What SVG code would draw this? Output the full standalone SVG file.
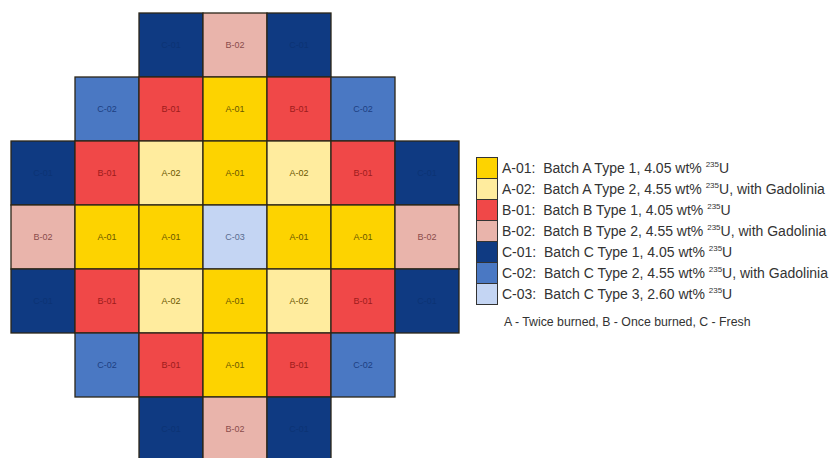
<svg xmlns="http://www.w3.org/2000/svg" width="832" height="458" viewBox="0 0 832 458">
<style>
.cell{stroke:#2b2618;stroke-width:1.3}
.lbl{font-family:"Liberation Sans",Arial,sans-serif;font-size:9px;text-anchor:middle;dominant-baseline:central}
.a1{fill:#FDD300}.a2{fill:#FFEC9E}.b1{fill:#F04848}.b2{fill:#E9B4AB}.c1{fill:#0F3A82}.c2{fill:#4A78C3}.c3{fill:#C4D5F3}
.ta{fill:#6a5700}.tb1{fill:#9c1c1c}.tb2{fill:#8a4c4c}.tc1{fill:#0c3374}.tc2{fill:#1d3f82}.tc3{fill:#5a6c90}
.sw{stroke:#333;stroke-width:1}
.leg{font-family:"Liberation Sans",Arial,sans-serif;font-size:14px;fill:#333;white-space:pre}
.sup{font-size:8px}
</style>
<g id="core">
<g id="r0c2"><rect class="cell c1" x="139" y="13" width="64" height="64"/><text class="lbl tc1" x="171" y="45">C-01</text></g>
<g id="r0c3"><rect class="cell b2" x="203" y="13" width="64" height="64"/><text class="lbl tb2" x="235" y="45">B-02</text></g>
<g id="r0c4"><rect class="cell c1" x="267" y="13" width="64" height="64"/><text class="lbl tc1" x="299" y="45">C-01</text></g>

<g id="r1c1"><rect class="cell c2" x="75" y="77" width="64" height="64"/><text class="lbl tc2" x="107" y="109">C-02</text></g>
<g id="r1c2"><rect class="cell b1" x="139" y="77" width="64" height="64"/><text class="lbl tb1" x="171" y="109">B-01</text></g>
<g id="r1c3"><rect class="cell a1" x="203" y="77" width="64" height="64"/><text class="lbl ta" x="235" y="109">A-01</text></g>
<g id="r1c4"><rect class="cell b1" x="267" y="77" width="64" height="64"/><text class="lbl tb1" x="299" y="109">B-01</text></g>
<g id="r1c5"><rect class="cell c2" x="331" y="77" width="64" height="64"/><text class="lbl tc2" x="363" y="109">C-02</text></g>

<g id="r2c0"><rect class="cell c1" x="11" y="141" width="64" height="64"/><text class="lbl tc1" x="43" y="173">C-01</text></g>
<g id="r2c1"><rect class="cell b1" x="75" y="141" width="64" height="64"/><text class="lbl tb1" x="107" y="173">B-01</text></g>
<g id="r2c2"><rect class="cell a2" x="139" y="141" width="64" height="64"/><text class="lbl ta" x="171" y="173">A-02</text></g>
<g id="r2c3"><rect class="cell a1" x="203" y="141" width="64" height="64"/><text class="lbl ta" x="235" y="173">A-01</text></g>
<g id="r2c4"><rect class="cell a2" x="267" y="141" width="64" height="64"/><text class="lbl ta" x="299" y="173">A-02</text></g>
<g id="r2c5"><rect class="cell b1" x="331" y="141" width="64" height="64"/><text class="lbl tb1" x="363" y="173">B-01</text></g>
<g id="r2c6"><rect class="cell c1" x="395" y="141" width="64" height="64"/><text class="lbl tc1" x="427" y="173">C-01</text></g>

<g id="r3c0"><rect class="cell b2" x="11" y="205" width="64" height="64"/><text class="lbl tb2" x="43" y="237">B-02</text></g>
<g id="r3c1"><rect class="cell a1" x="75" y="205" width="64" height="64"/><text class="lbl ta" x="107" y="237">A-01</text></g>
<g id="r3c2"><rect class="cell a1" x="139" y="205" width="64" height="64"/><text class="lbl ta" x="171" y="237">A-01</text></g>
<g id="r3c3"><rect class="cell c3" x="203" y="205" width="64" height="64"/><text class="lbl tc3" x="235" y="237">C-03</text></g>
<g id="r3c4"><rect class="cell a1" x="267" y="205" width="64" height="64"/><text class="lbl ta" x="299" y="237">A-01</text></g>
<g id="r3c5"><rect class="cell a1" x="331" y="205" width="64" height="64"/><text class="lbl ta" x="363" y="237">A-01</text></g>
<g id="r3c6"><rect class="cell b2" x="395" y="205" width="64" height="64"/><text class="lbl tb2" x="427" y="237">B-02</text></g>

<g id="r4c0"><rect class="cell c1" x="11" y="269" width="64" height="64"/><text class="lbl tc1" x="43" y="301">C-01</text></g>
<g id="r4c1"><rect class="cell b1" x="75" y="269" width="64" height="64"/><text class="lbl tb1" x="107" y="301">B-01</text></g>
<g id="r4c2"><rect class="cell a2" x="139" y="269" width="64" height="64"/><text class="lbl ta" x="171" y="301">A-02</text></g>
<g id="r4c3"><rect class="cell a1" x="203" y="269" width="64" height="64"/><text class="lbl ta" x="235" y="301">A-01</text></g>
<g id="r4c4"><rect class="cell a2" x="267" y="269" width="64" height="64"/><text class="lbl ta" x="299" y="301">A-02</text></g>
<g id="r4c5"><rect class="cell b1" x="331" y="269" width="64" height="64"/><text class="lbl tb1" x="363" y="301">B-01</text></g>
<g id="r4c6"><rect class="cell c1" x="395" y="269" width="64" height="64"/><text class="lbl tc1" x="427" y="301">C-01</text></g>

<g id="r5c1"><rect class="cell c2" x="75" y="333" width="64" height="64"/><text class="lbl tc2" x="107" y="365">C-02</text></g>
<g id="r5c2"><rect class="cell b1" x="139" y="333" width="64" height="64"/><text class="lbl tb1" x="171" y="365">B-01</text></g>
<g id="r5c3"><rect class="cell a1" x="203" y="333" width="64" height="64"/><text class="lbl ta" x="235" y="365">A-01</text></g>
<g id="r5c4"><rect class="cell b1" x="267" y="333" width="64" height="64"/><text class="lbl tb1" x="299" y="365">B-01</text></g>
<g id="r5c5"><rect class="cell c2" x="331" y="333" width="64" height="64"/><text class="lbl tc2" x="363" y="365">C-02</text></g>

<g id="r6c2"><rect class="cell c1" x="139" y="397" width="64" height="64"/><text class="lbl tc1" x="171" y="429">C-01</text></g>
<g id="r6c3"><rect class="cell b2" x="203" y="397" width="64" height="64"/><text class="lbl tb2" x="235" y="429">B-02</text></g>
<g id="r6c4"><rect class="cell c1" x="267" y="397" width="64" height="64"/><text class="lbl tc1" x="299" y="429">C-01</text></g>
</g>
<g id="connectors"/>
<g id="legend">
<g id="leg-a01"><rect class="sw a1" x="476.5" y="157.5" width="21" height="21"/><text class="leg" x="502" y="173">A-01:  Batch A Type 1, 4.05 wt% <tspan class="sup" dy="-6">235</tspan><tspan dy="6">U</tspan></text></g>
<g id="leg-a02"><rect class="sw a2" x="476.5" y="178.5" width="21" height="21"/><text class="leg" x="502" y="194">A-02:  Batch A Type 2, 4.55 wt% <tspan class="sup" dy="-6">235</tspan><tspan dy="6">U, with Gadolinia</tspan></text></g>
<g id="leg-b01"><rect class="sw b1" x="476.5" y="199.5" width="21" height="21"/><text class="leg" x="502" y="215">B-01:  Batch B Type 1, 4.05 wt% <tspan class="sup" dy="-6">235</tspan><tspan dy="6">U</tspan></text></g>
<g id="leg-b02"><rect class="sw b2" x="476.5" y="220.5" width="21" height="21"/><text class="leg" x="502" y="236">B-02:  Batch B Type 2, 4.55 wt% <tspan class="sup" dy="-6">235</tspan><tspan dy="6">U, with Gadolinia</tspan></text></g>
<g id="leg-c01"><rect class="sw c1" x="476.5" y="241.5" width="21" height="21"/><text class="leg" x="502" y="257">C-01:  Batch C Type 1, 4.05 wt% <tspan class="sup" dy="-6">235</tspan><tspan dy="6">U</tspan></text></g>
<g id="leg-c02"><rect class="sw c2" x="476.5" y="262.5" width="21" height="21"/><text class="leg" x="502" y="278">C-02:  Batch C Type 2, 4.55 wt% <tspan class="sup" dy="-6">235</tspan><tspan dy="6">U, with Gadolinia</tspan></text></g>
<g id="leg-c03"><rect class="sw c3" x="476.5" y="283.5" width="21" height="21"/><text class="leg" x="502" y="299">C-03:  Batch C Type 3, 2.60 wt% <tspan class="sup" dy="-6">235</tspan><tspan dy="6">U</tspan></text></g>
<text id="leg-note" class="leg" style="font-size:12.3px" x="504" y="326">A - Twice burned, B - Once burned, C - Fresh</text>
</g>
</svg>
